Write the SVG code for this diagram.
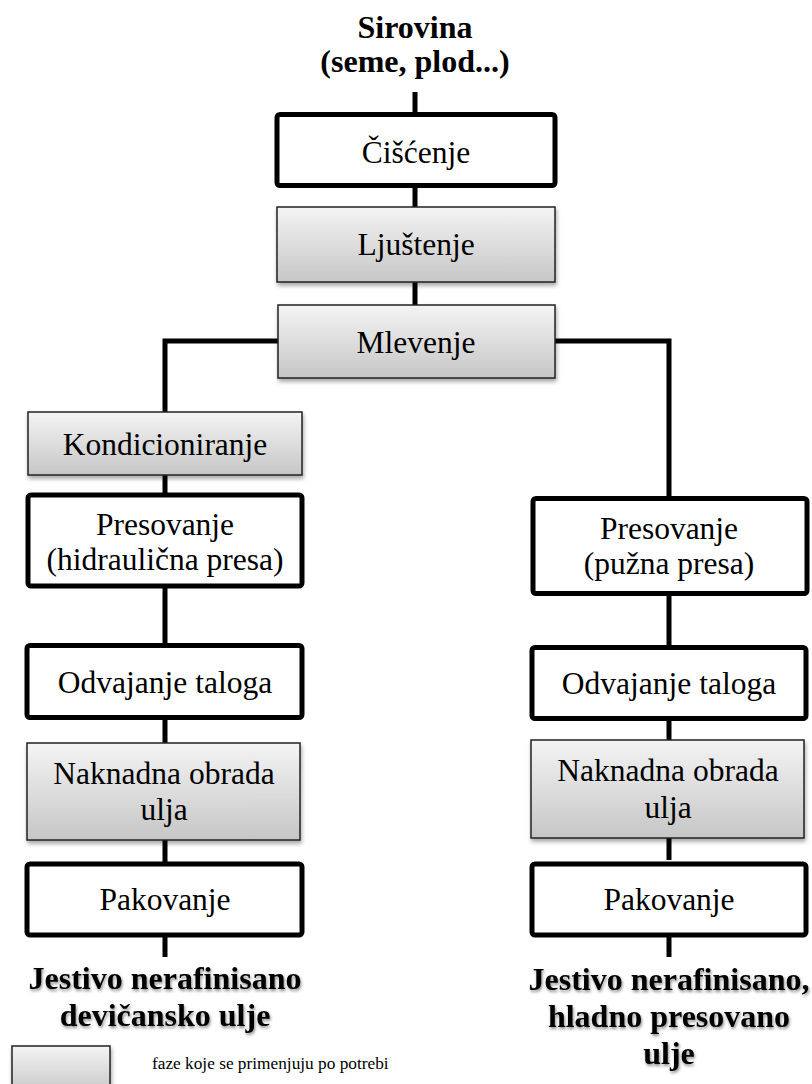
<svg xmlns="http://www.w3.org/2000/svg" width="812" height="1084" viewBox="0 0 812 1084">
<defs>
<linearGradient id="g" x1="0" y1="0" x2="0" y2="1">
<stop offset="0" stop-color="#f4f4f4"/>
<stop offset="1" stop-color="#c6c6c6"/>
</linearGradient>
<filter id="sh" x="-10%" y="-10%" width="125%" height="140%">
<feDropShadow dx="1" dy="3" stdDeviation="2" flood-color="#000" flood-opacity="0.35"/>
</filter>
<filter id="tsh" x="-10%" y="-20%" width="120%" height="150%">
<feDropShadow dx="1" dy="2" stdDeviation="1.5" flood-color="#000" flood-opacity="0.45"/>
</filter>
</defs>
<style>
.w{fill:#fff;stroke:#000;stroke-width:5}
.s{fill:url(#g);stroke:#222;stroke-width:1.5;filter:url(#sh)}
.t{font-family:'Liberation Serif',serif;font-size:31.5px;fill:#000;text-anchor:middle}
.b{font-family:'Liberation Serif',serif;font-size:32px;font-weight:bold;fill:#000;text-anchor:middle}
.l{font-family:'Liberation Serif',serif;font-size:17.3px;fill:#000}
.c{fill:none;stroke:#000;stroke-width:5}
</style>
<g id="connectors">
<path class="c" d="M415 92V113M415 187V207M415 282V305"/>
<path class="c" d="M278 341H165V412"/>
<path class="c" d="M555 341H669V497"/>
<path class="c" d="M165 475V493M165 588V643M165 718V743M165 840V862M165 935V957"/>
<path class="c" d="M669 595V645M669 720V740M669 838V860M669 935V957"/>
</g>
<g id="sirovina"><text class="b" x="415" y="38">Sirovina</text><text class="b" x="415" y="72">(seme, plod...)</text></g>
<g id="ciscenje"><rect class="w" x="277" y="114.5" width="278" height="71" rx="3"/><text class="t" x="416" y="163">Čišćenje</text></g>
<g id="ljustenje"><rect class="s" x="277" y="207" width="278" height="75"/><text class="t" x="416" y="255">Ljuštenje</text></g>
<g id="mlevenje"><rect class="s" x="278" y="305" width="277" height="73"/><text class="t" x="416" y="353">Mlevenje</text></g>
<g id="kondicioniranje"><rect class="s" x="28" y="412" width="274" height="63"/><text class="t" x="165" y="455">Kondicioniranje</text></g>
<g id="presovanje-l"><rect class="w" x="28" y="495" width="274" height="91" rx="3"/><text class="t" x="165" y="535">Presovanje</text><text class="t" x="165" y="570">(hidraulična presa)</text></g>
<g id="odvajanje-l"><rect class="w" x="27" y="645.5" width="275" height="72" rx="3"/><text class="t" x="165" y="693">Odvajanje taloga</text></g>
<g id="naknadna-l"><rect class="s" x="27" y="743" width="273" height="97"/><text class="t" x="164" y="784">Naknadna obrada</text><text class="t" x="164" y="820">ulja</text></g>
<g id="pakovanje-l"><rect class="w" x="27" y="864" width="275" height="71" rx="3"/><text class="t" x="165" y="910">Pakovanje</text></g>
<g id="presovanje-r"><rect class="w" x="533" y="498.5" width="274" height="95" rx="3"/><text class="t" x="669" y="539">Presovanje</text><text class="t" x="669" y="574">(pužna presa)</text></g>
<g id="odvajanje-r"><rect class="w" x="532" y="647.5" width="274" height="71" rx="3"/><text class="t" x="669" y="694">Odvajanje taloga</text></g>
<g id="naknadna-r"><rect class="s" x="531" y="740" width="273" height="98"/><text class="t" x="668" y="781">Naknadna obrada</text><text class="t" x="668" y="818">ulja</text></g>
<g id="pakovanje-r"><rect class="w" x="532" y="864" width="274" height="71" rx="3"/><text class="t" x="669" y="910">Pakovanje</text></g>
<g id="out-l" filter="url(#tsh)"><text class="b" x="165" y="989">Jestivo nerafinisano</text><text class="b" x="165" y="1026">devičansko ulje</text></g>
<g id="out-r" filter="url(#tsh)"><text class="b" x="669" y="990">Jestivo nerafinisano,</text><text class="b" x="669" y="1027">hladno presovano</text><text class="b" x="669" y="1064">ulje</text></g>
<g id="legend"><rect class="s" x="12" y="1046" width="98" height="48"/><text class="l" x="152" y="1069">faze koje se primenjuju po potrebi</text></g>
</svg>
